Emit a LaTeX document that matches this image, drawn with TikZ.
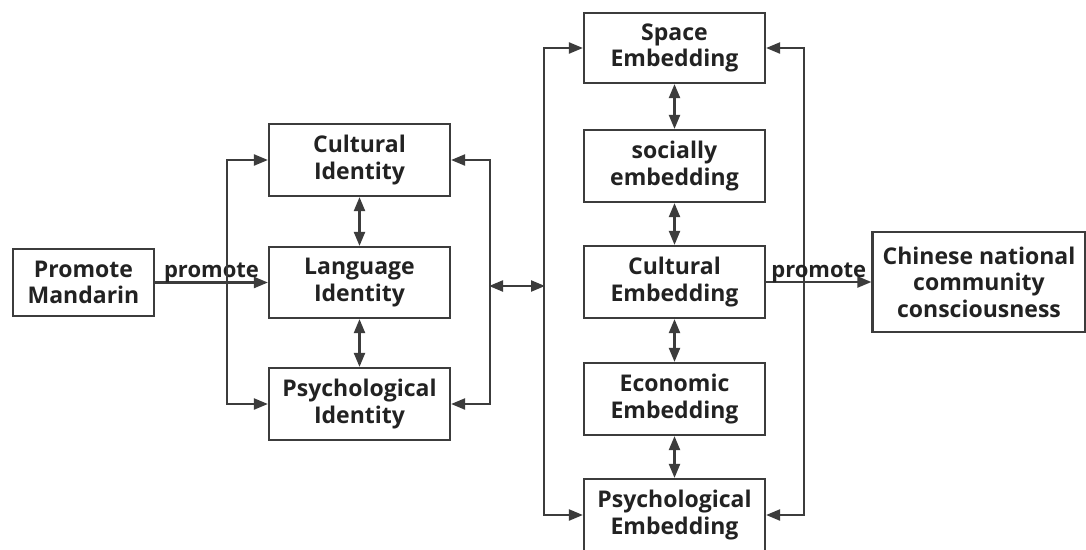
\documentclass[tikz,border=0pt]{standalone}
\usepackage{fontspec}
\setmainfont{Open Sans}
\usetikzlibrary{arrows.meta}
\definecolor{ln}{HTML}{3C3C3C}
\definecolor{tx}{HTML}{222222}
\begin{document}
\begin{tikzpicture}[x=1pt,y=-1pt,
  box/.style={draw=ln,line width=2.2pt,minimum width=181pt,minimum height=72pt,inner sep=0pt,
    align=center,text=tx,font=\fontsize{23}{26.5}\selectfont\bfseries},
  conn/.style={draw=ln,line width=2.2pt,-{Triangle[length=14pt,width=11pt]}},
  conn2/.style={draw=ln,line width=2.2pt,{Triangle[length=14pt,width=11pt]}-{Triangle[length=14pt,width=11pt]}},
  lab/.style={text=tx,font=\fontsize{22}{26}\selectfont\bfseries,inner sep=0pt,anchor=base,yshift=5pt}]
\useasboundingbox (0,0) rectangle (1086,549);
\fill[white] (0,0) rectangle (1086,549);
% left
\node[box,minimum width=141pt,minimum height=67pt] (pm) at (83.5,282.5) {Promote\\Mandarin};
\node[box] (ci) at (359.5,160) {Cultural\\Identity};
\node[box,minimum height=71pt] (li) at (359.5,282.5) {Language\\Identity};
\node[box] (pi) at (359.5,404) {Psychological\\Identity};
% right column
\node[box,minimum height=70pt] (se) at (674.5,48) {Space\\Embedding};
\node[box] (soe) at (674.5,166) {socially\\embedding};
\node[box] (ce) at (674.5,282) {Cultural\\Embedding};
\node[box] (ee) at (674.5,399) {Economic\\Embedding};
\node[box] (pe) at (674.5,515) {Psychological\\Embedding};
\node[box,minimum width=213pt,minimum height=100pt] (cn) at (979,282) {Chinese national\\community\\consciousness};
% connectors
\draw[conn] (pm.east) -- node[lab] {promote} (li.west);
\draw[conn2] (ci.west) -- ++(-41,0) |- (pi.west);
\draw[conn2] (ci.east) -- ++(39,0) |- (pi.east);
\coordinate (ml) at (489,286);
\coordinate (mr) at (545,286);
\draw[conn2] (ml) -- (mr);
\draw[conn2] (se.west) -- ++(-39,0) |- (pe.west);
\draw[conn2] (se.east) -- ++(38,0) |- (pe.east);
\draw[conn2] (ci.south) -- (li.north);
\draw[conn2] (li.south) -- (pi.north);
\draw[conn2] (se.south) -- (soe.north);
\draw[conn2] (soe.south) -- (ce.north);
\draw[conn2] (ce.south) -- (ee.north);
\draw[conn2] (ee.south) -- (pe.north);
\draw[conn] (ce.east) -- node[lab] {promote} (cn.west);
\end{tikzpicture}
\end{document}
